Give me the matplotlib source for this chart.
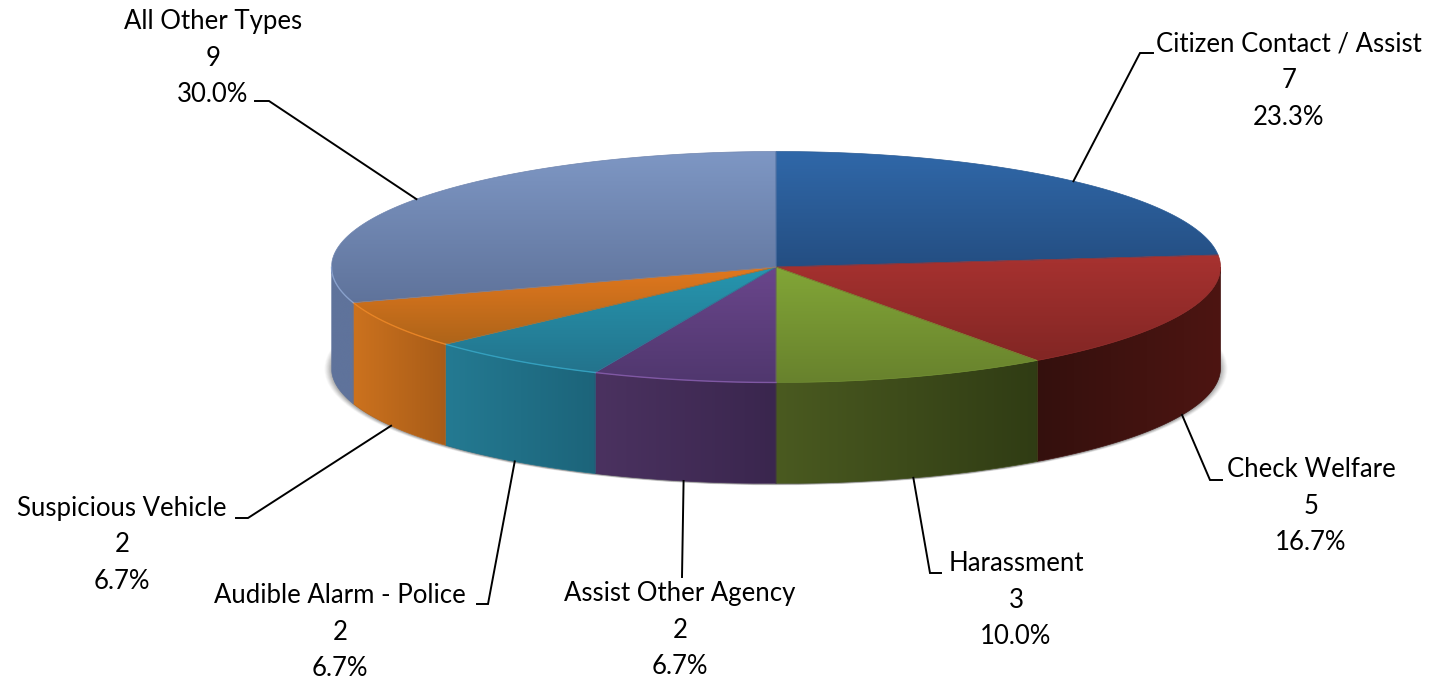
import numpy as np
import matplotlib
matplotlib.use('Agg')
import matplotlib.pyplot as plt
from matplotlib.patches import Polygon, Ellipse

plt.rcParams['font.family'] = ['Lato', 'DejaVu Sans']

categories = ['Citizen Contact / Assist', 'Check Welfare', 'Harassment', 'Assist Other Agency',
              'Audible Alarm - Police', 'Suspicious Vehicle', 'All Other Types']
counts = [7, 5, 3, 2, 2, 2, 9]

# top face gradient (light, dark), side gradient (left, right)
top_colors = [('#3068a9', '#244e82'), ('#a83230', '#822624'), ('#82a637', '#68822d'),
              ('#6a468c', '#50376e'), ('#2696af', '#23738c'), ('#e2781e', '#ae6419'),
              ('#7e97c4', '#5f739b')]
side_colors = [('#244e82', '#244e82'), ('#34100d', '#4d1512'), ('#4a5a20', '#303c14'),
               ('#4b3260', '#3a264e'), ('#247a92', '#1c647a'), ('#cc721e', '#a85c18'),
               ('#5f739b', '#5f739b')]
rim_colors = [None, None, None, '#8a60b0', '#38a8c8', '#f08a28', '#90a8d4']

# label centre, leader elbow and leader end, in figure pixels
label_pos = [(1289, 81), (1311, 506), (1016, 600), (680, 630), (340, 632), (122, 545), (213, 58)]
elbow = [(1140, 53), (1210, 480), (930, 573), (682, 577), (488, 604), (248, 518), (269, 101)]
leader_end = [(1153, 53), (1222, 480), (941, 573), (682, 577), (477, 604), (236, 518), (255, 101)]

cx, cy, rx, ry, depth = 776, 267, 444.5, 115.5, 101


def rim(a, drop=0):
    a = np.radians(a)
    return cx + rx * np.sin(a), cy - ry * np.cos(a) + drop


def fill_gradient(ax, verts, c0, c1, vertical, zorder):
    poly = Polygon(verts, closed=True, fc='none', ec='none', transform=ax.transData)
    ax.add_patch(poly)
    rgb0, rgb1 = np.array(matplotlib.colors.to_rgb(c0)), np.array(matplotlib.colors.to_rgb(c1))
    t = np.linspace(0, 1, 128)[:, None]
    grad = rgb0 + (rgb1 - rgb0) * t
    img = grad[:, None, :] if vertical else grad[None, :, :]
    x0, y0 = verts.min(axis=0)
    x1, y1 = verts.max(axis=0)
    im = ax.imshow(img, extent=(x0, x1, y1, y0), aspect='auto', interpolation='bilinear', zorder=zorder)
    im.set_clip_path(poly)
    mid = (rgb0 + rgb1) / 2
    ax.add_patch(Polygon(verts, closed=True, fc='none', ec=mid, lw=0.5, zorder=zorder + 0.1))


fig = plt.figure(figsize=(14.31, 6.82), dpi=100)
ax = fig.add_axes([0, 0, 1, 1])

# soft shadow under the pie
for grow, alpha in zip(np.linspace(8, 0, 10), np.linspace(0.04, 0.12, 10)):
    ax.add_patch(Ellipse((cx, cy + depth + 1), 2 * (rx + grow - 1), 2 * (ry + grow * 0.1),
                         fc='#555555', ec='none', alpha=alpha, zorder=1))

total = sum(counts)
edges = np.concatenate([[0], np.cumsum(counts)]) * 360 / total

# sides first, only the front half can be seen
for i in range(len(counts)):
    a0, a1 = max(edges[i], 90), min(edges[i + 1], 270)
    if a1 <= a0:
        continue
    a = np.linspace(a0, a1, 120)
    up = np.column_stack(rim(a))
    down = np.column_stack(rim(a[::-1], depth))
    fill_gradient(ax, np.vstack([up, down]), side_colors[i][0], side_colors[i][1], False, 2)

# top face
for i in range(len(counts)):
    a = np.linspace(edges[i], edges[i + 1], 200)
    verts = np.vstack([[[cx, cy]], np.column_stack(rim(a))])
    fill_gradient(ax, verts, top_colors[i][0], top_colors[i][1], True, 3)
    front = a[(a > 90) & (a < 270)]
    if len(front) and rim_colors[i]:
        ax.plot(*rim(front), color=rim_colors[i], lw=1.0, alpha=0.8, zorder=4)

# leaders and labels
for i, name in enumerate(categories):
    mid = (edges[i] + edges[i + 1]) / 2
    drop = depth if 90 < mid < 270 else 0
    x0, y0 = rim(mid, drop)
    ax.plot([x0, elbow[i][0], leader_end[i][0]], [y0, elbow[i][1], leader_end[i][1]],
            color='black', lw=1.4, solid_joinstyle='miter', zorder=5)
    ax.text(label_pos[i][0], label_pos[i][1], f'{name}\n{counts[i]}\n{100 * counts[i] / total:.1f}%',
            ha='center', va='center', fontsize=18.5, linespacing=1.58, color='black', zorder=6)

ax.set_xlim(0, 1431)
ax.set_ylim(682, 0)
ax.axis('off')
fig.savefig('out.png', dpi=100, facecolor='white')
